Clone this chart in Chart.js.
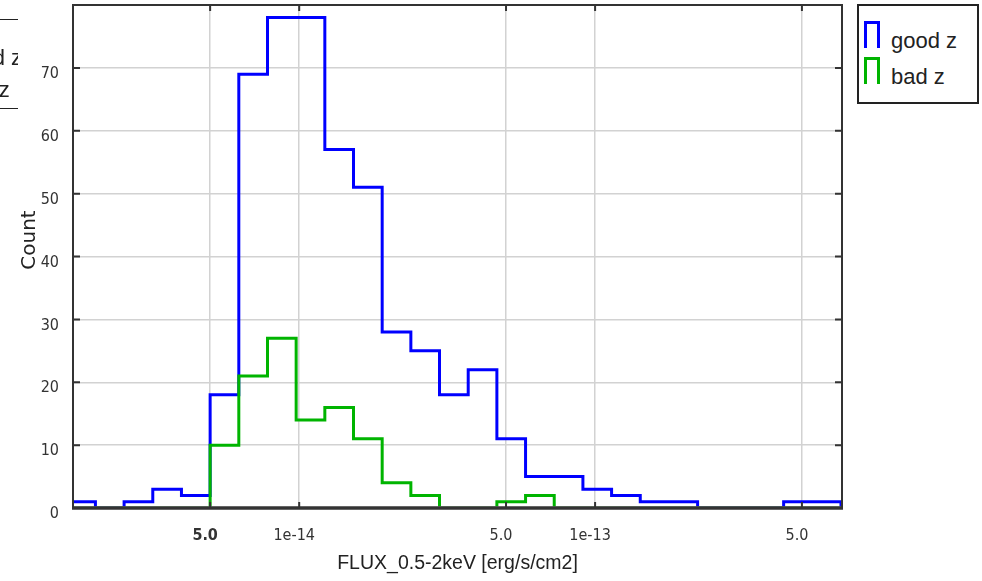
<!DOCTYPE html>
<html>
<head>
<meta charset="utf-8">
<script src="https://cdn.jsdelivr.net/npm/chart.js@4"></script>
<style>
  body { margin: 0; background: #fff; }
  #wrap { position: relative; width: 982px; height: 581px; overflow: hidden; }
  #histo { position: absolute; left: 0; top: 0; }
  .leyenda { position: absolute; background: #fff; font-family: 'Liberation Sans', Arial, sans-serif; font-size: 22px; color: #222; }
  .item { position: absolute; white-space: nowrap; }
  .icono { position: absolute; width: 10px; height: 24px; border: 3px solid; border-bottom: none; }
  #countLabel { position: absolute; left: 28px; top: 240px; transform: translate(-50%, -50%) rotate(-90deg);
    font-family: 'DejaVu Sans', sans-serif; font-size: 20px; color: #222; white-space: nowrap; }
</style>
</head>
<body>
<div id="wrap">
  <canvas id="histo" width="982" height="581"></canvas>
  <!-- resto de la leyenda de otro panel, cortado a la izquierda -->
  <div class="leyenda" style="left:0; top:19px; width:18px; height:88px; border-top:1.5px solid #222; border-bottom:1.5px solid #222; overflow:hidden; background:transparent">
    <span class="item" style="left:-44px; top:25px">good z</span>
    <span class="item" style="left:-44px; top:57px">bad z</span>
  </div>
  <div class="leyenda" id="leyenda" style="left:857px; top:4px; width:118px; height:96px; border:2px solid #222"></div>
  <div id="countLabel">Count</div>
</div>
<script>
// --- DATOS ---
// bordes de los bins (factor 1.25 entre bins)
const binEdges = [1.6384e-15, 2.048e-15, 2.56e-15, 3.2e-15, 4.0e-15, 5.0e-15, 6.25e-15, 7.8125e-15,
    9.7656e-15, 1.2207e-14, 1.5259e-14, 1.9073e-14, 2.3842e-14, 2.9802e-14, 3.7253e-14, 4.6566e-14,
    5.8208e-14, 7.2760e-14, 9.0949e-14, 1.1369e-13, 1.4211e-13, 1.7764e-13, 2.2204e-13, 2.7756e-13,
    3.4694e-13, 4.3368e-13, 5.4210e-13, 6.7763e-13];
const goodZ = [1, 0, 1, 3, 2, 18, 69, 78, 78, 57, 51, 28, 25, 18, 22, 11, 5, 5, 3, 2, 1, 1, 0, 0, 0, 1, 1];
const badZ  = [0, 0, 0, 0, 0, 10, 21, 27, 14, 16, 11, 4, 2, 0, 0, 1, 2, 0, 0, 0, 0, 0, 0, 0, 0, 0, 0];
const seriesNames = ['good z', 'bad z'];
const seriesColors = ['#0000ff', '#00b400'];

const xTickValues = [5e-15, 1e-14, 5e-14, 1e-13, 5e-13];
const xTickLabels = ['5.0', '1e-14', '5.0', '1e-13', '5.0'];
const yTickValues = [0, 10, 20, 30, 40, 50, 60, 70];

const tickFont = "'Liberation Sans Narrow', 'DejaVu Sans Condensed', sans-serif";

// Convierte conteos en puntos de un histograma escalonado
function puntosEscalon(counts) {
    const pts = [{ x: binEdges[0], y: 0 }];
    counts.forEach((c, i) => pts.push({ x: binEdges[i + 1], y: c }));
    pts.push({ x: binEdges[counts.length], y: 0 });
    return pts;
}

// Marco y marcas de ticks hacia adentro
const marcoPlugin = {
    id: 'marco',
    afterDatasetsDraw(chart) {
        const { ctx, chartArea: a, scales } = chart;
        ctx.save();
        ctx.strokeStyle = '#333';
        ctx.lineWidth = 2;
        ctx.beginPath();
        xTickValues.forEach(v => {
            const px = scales.x.getPixelForValue(v);
            ctx.moveTo(px, a.bottom); ctx.lineTo(px, a.bottom - 6);
            ctx.moveTo(px, a.top); ctx.lineTo(px, a.top + 6);
        });
        yTickValues.forEach(v => {
            const py = scales.y.getPixelForValue(v);
            ctx.moveTo(a.left, py); ctx.lineTo(a.left + 7, py);
            ctx.moveTo(a.right, py); ctx.lineTo(a.right - 7, py);
        });
        ctx.stroke();
        ctx.strokeRect(a.left, a.top, a.right - a.left, a.bottom - a.top);
        // eje inferior algo más grueso: tapa el nivel cero de los histogramas
        ctx.lineWidth = 3.5;
        ctx.beginPath();
        ctx.moveTo(a.left - 1, a.bottom); ctx.lineTo(a.right + 1, a.bottom);
        ctx.stroke();
        ctx.restore();
    }
};

const ctx = document.getElementById('histo').getContext('2d');
new Chart(ctx, {
    type: 'line',
    data: {
        datasets: [
            { label: seriesNames[0], data: puntosEscalon(goodZ), borderColor: seriesColors[0], order: 1 },
            { label: seriesNames[1], data: puntosEscalon(badZ), borderColor: seriesColors[1], order: 0 }
        ].map(d => Object.assign(d, {
            stepped: 'after', borderWidth: 3, pointRadius: 0, fill: false,
            borderJoinStyle: 'miter', clip: { left: 0, top: 0, right: 0, bottom: -1.5 }
        }))
    },
    options: {
        responsive: false,
        animation: false,
        layout: { padding: { left: 0, right: 140, top: 5, bottom: 0 } },
        plugins: { legend: { display: false }, tooltip: { enabled: false } },
        scales: {
            x: {
                type: 'logarithmic',
                min: 1.72e-15,
                max: 6.83e-13,
                afterBuildTicks: s => { s.ticks = xTickValues.map(v => ({ value: v })); },
                afterFit: s => { s.height = 73; s.paddingLeft = 0; s.paddingRight = 0; },
                border: { display: false },
                grid: { color: '#d2d2d2', lineWidth: 1.5, drawTicks: false },
                ticks: {
                    autoSkip: false, maxRotation: 0, padding: 18, labelOffset: -5,
                    color: '#333',
                    font: c => ({ family: tickFont, size: 16, weight: c.index === 0 ? 'bold' : 'normal' }),
                    callback: (v, i) => xTickLabels[i]
                },
                title: {
                    display: true, text: 'FLUX_0.5-2keV [erg/s/cm2]', color: '#222',
                    font: { family: "'Liberation Sans', Arial, sans-serif", size: 19.5 },
                    padding: { top: 0, bottom: 6 }
                }
            },
            y: {
                min: 0,
                max: 80,
                afterBuildTicks: s => { s.ticks = yTickValues.map(v => ({ value: v })); },
                afterFit: s => { s.width = 73; s.paddingTop = 0; s.paddingBottom = 0; },
                border: { display: false },
                grid: { color: '#d2d2d2', lineWidth: 1.5, drawTicks: false },
                ticks: {
                    padding: 14, labelOffset: 6, color: '#333',
                    font: { family: tickFont, size: 16 }
                }
            }
        }
    },
    plugins: [marcoPlugin]
});

// Leyenda HTML con iconos de escalón
const $leyenda = document.getElementById('leyenda');
seriesNames.forEach((nombre, i) => {
    const top = 15 + i * 36;
    $leyenda.insertAdjacentHTML('beforeend',
        `<div class="icono" style="left:5px; top:${top}px; border-color:${seriesColors[i]}"></div>` +
        `<span class="item" style="left:32px; top:${top + 7}px">${nombre}</span>`);
});
</script>
</body>
</html>
